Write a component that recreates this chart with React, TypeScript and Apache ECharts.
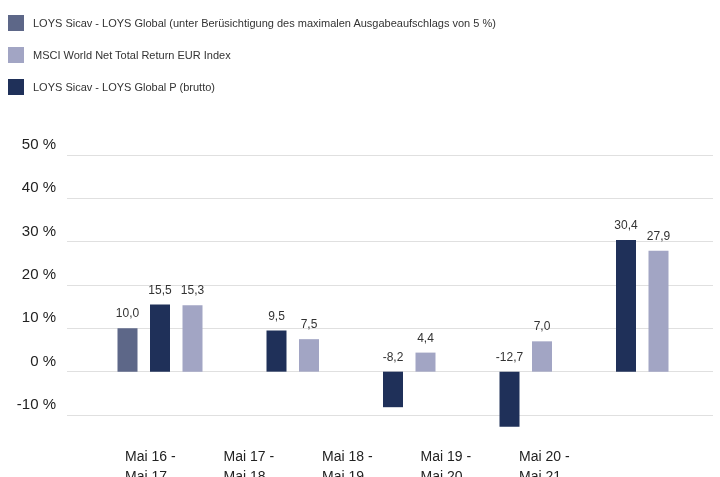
import React, { useEffect, useRef } from "react";
import * as echarts from "echarts";

const categories = ["Mai 16 -\nMai 17", "Mai 17 -\nMai 18", "Mai 18 -\nMai 19", "Mai 19 -\nMai 20", "Mai 20 -\nMai 21"];
const seriesNames = [
  "LOYS Sicav - LOYS Global (unter Berüsichtigung des maximalen Ausgabeaufschlags von 5 %)",
  "LOYS Sicav - LOYS Global P (brutto)",
  "MSCI World Net Total Return EUR Index",
];
const loysGlobalNet: (number | null)[] = [10.0, null, null, null, null];
const loysGlobalBrutto: (number | null)[] = [15.5, 9.5, -8.2, -12.7, 30.4];
const msciWorld: (number | null)[] = [15.3, 7.5, 4.4, 7.0, 27.9];
const legendOrder = [seriesNames[0], seriesNames[2], seriesNames[1]];
const yMin = -10;
const yMax = 50;
const yStep = 10;
const barAxisMin = -20;

const colors = ["#5d6788", "#1f3059", "#a2a5c4"];
const FONT = "'Liberation Sans', Arial, Helvetica, sans-serif";

export default function App() {
  const ref = useRef<HTMLDivElement>(null);
  useEffect(() => {
    if (!ref.current) return;
    const chart = echarts.init(ref.current, null, { renderer: "svg" });
    const gridTop = 155;
    const gridHeight = 260;
    const unit = gridHeight / (yMax - yMin);
    const barGridHeight = unit * (yMax - barAxisMin);
    const hiddenY = {
      type: "value",
      max: yMax,
      interval: yStep,
      axisLabel: { show: false },
      axisLine: { show: false },
      axisTick: { show: false },
      splitLine: { show: false },
    };
    const hiddenX = {
      type: "category",
      data: categories,
      axisLabel: { show: false },
      axisLine: { show: false },
      axisTick: { show: false },
      splitLine: { show: false },
    };
    const label = {
      show: true,
      position: "top",
      distance: 9,
      fontSize: 12,
      fontFamily: FONT,
      color: "#333",
      formatter: (p: any) => Number(p.value).toFixed(1).replace(".", ","),
    };
    const dataSets = [loysGlobalNet, loysGlobalBrutto, msciWorld];
    chart.setOption({
      animation: false,
      textStyle: { fontFamily: FONT },
      legend: {
        data: legendOrder,
        orient: "vertical",
        left: 8,
        top: 15,
        padding: 0,
        itemWidth: 16,
        itemHeight: 16,
        itemGap: 16,
        icon: "rect",
        selectedMode: false,
        textStyle: { fontSize: 11, color: "#333", fontFamily: FONT, padding: [0, 0, 0, 4] },
      },
      grid: [
        { left: 67, right: 7, top: gridTop, height: gridHeight, outerBoundsMode: "none" },
        { left: 101.75, width: 582.5, top: gridTop, height: barGridHeight, outerBoundsMode: "none" },
        { left: 75.75, width: 492.5, top: gridTop, height: gridHeight, outerBoundsMode: "none" },
      ],
      xAxis: [
        { ...hiddenX, gridIndex: 0 },
        { ...hiddenX, gridIndex: 1 },
        {
          type: "category",
          gridIndex: 2,
          data: categories,
          axisLine: { show: false },
          axisTick: { show: false },
          splitLine: { show: false },
          axisLabel: {
            show: true,
            interval: 0,
            align: "left",
            margin: 31,
            fontSize: 14,
            lineHeight: 20,
            color: "#222",
            fontFamily: FONT,
          },
        },
      ],
      yAxis: [
        {
          type: "value",
          min: yMin,
          max: yMax,
          interval: yStep,
          gridIndex: 0,
          axisLine: { show: false },
          axisTick: { show: false },
          axisLabel: {
            formatter: "{value} %",
            fontSize: 15,
            color: "#222",
            margin: 11,
            fontFamily: FONT,
            verticalAlign: "bottom",
            padding: [0, 0, 4, 0],
          },
          splitLine: { show: true, lineStyle: { color: "#e0e0e0", width: 1 } },
        },
        { ...hiddenY, min: barAxisMin, gridIndex: 1 },
        { ...hiddenY, min: yMin, gridIndex: 2 },
      ],
      series: dataSets.map((d, i) => ({
        name: seriesNames[i],
        type: "bar",
        xAxisIndex: 1,
        yAxisIndex: 1,
        data: d,
        barWidth: 20,
        barGap: "62.5%",
        itemStyle: { color: colors[i] },
        label,
      })),
    });
    return () => chart.dispose();
  }, []);
  return <div ref={ref} style={{ position: "fixed", left: 0, top: 0, width: 720, height: 477 }} />;
}
